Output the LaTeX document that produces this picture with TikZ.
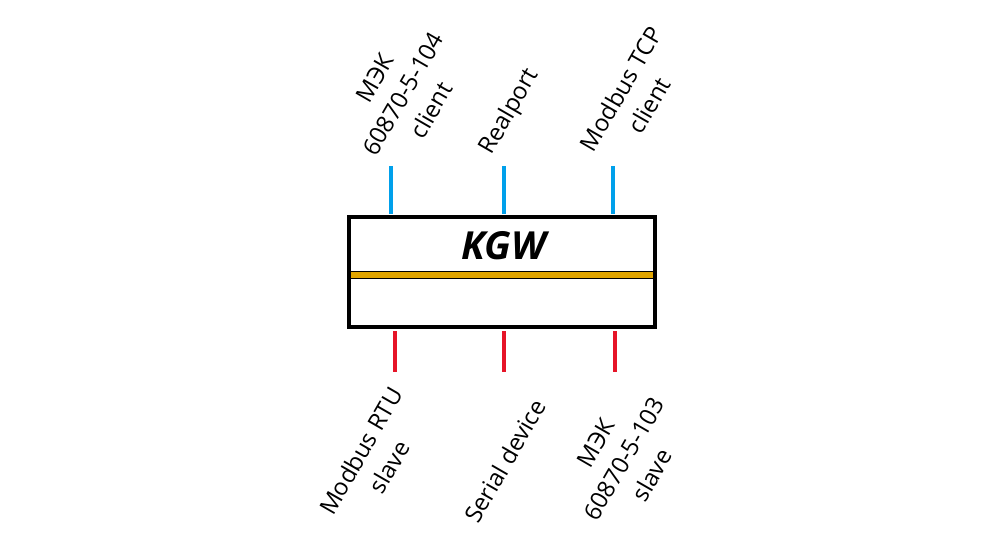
\documentclass[tikz,border=0pt]{standalone}
\usepackage{fontspec}
\setmainfont{Open Sans}
\usetikzlibrary{positioning}
\tikzset{
  lbl/.style={rotate=60, align=center, font=\fontsize{13.5}{18.5}\selectfont},
  inwire/.style={line width=1.8pt, color={rgb,255:red,0;green,160;blue,235}},
  outwire/.style={line width=1.8pt, color={rgb,255:red,230;green,20;blue,40}}
}
\begin{document}
\begin{tikzpicture}[x=0.2mm,y=-0.2mm]
\useasboundingbox (0,0) rectangle (1000,547);
% main box
\node[draw, line width=2.3pt, inner sep=0pt,
      minimum width=61.2mm, minimum height=22mm] (kgw) at (502,272) {};
\node[font=\fontsize{22}{26}\selectfont\bfseries\itshape] (title) at (504,246) {KGW};
% gold bar
\draw[line width=4.2pt] (351,275) -- (653,275);
\draw[line width=3pt, color={rgb,255:red,225;green,165;blue,0}] (351,275) -- (653,275);
% top wires and labels
\foreach \x/\n in {391/a,504/b,613/c}{
  \coordinate (t\n) at (\x,166);
  \draw[inwire] (t\n) -- (\x,214);
}
\foreach \x/\n in {395/a,504/b,615/c}{
  \coordinate (b\n) at (\x,372);
  \draw[outwire] (\x,331) -- (b\n);
}
\node[lbl] (iec104) at (403,94) {МЭК\\60870-5-104\\client};
\node[lbl] (realport) at (510,112) {Realport};
\node[lbl] (tcp) at (635,97) {Modbus TCP\\client};
\node[lbl] (rtu) at (375,459) {Modbus RTU\\slave};
\node[lbl] (serial) at (505,461) {Serial device};
\node[lbl] (iec103) at (624,459) {МЭК\\60870-5-103\\slave};
\end{tikzpicture}
\end{document}
